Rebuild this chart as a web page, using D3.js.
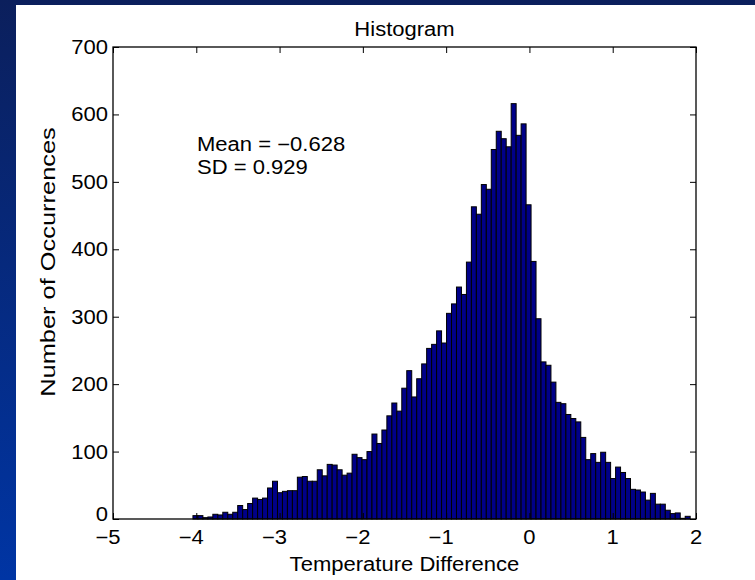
<!DOCTYPE html>
<html>
<head>
<meta charset="utf-8">
<script src="https://cdn.jsdelivr.net/npm/d3@7"></script>
<style>
  html, body { margin: 0; padding: 0; background: #0a2060; }
  svg { display: block; }
  text { font-family: 'Liberation Sans', Arial, Helvetica, sans-serif; fill: #000; }
</style>
</head>
<body>
<div id="chart"></div>
<script>
/* Histogram of temperature differences (MATLAB-style figure on a blue slide) */

// bin counts, left to right (100 bins)
var counts = [
  5, 5, 2, 3, 7, 6, 10, 7, 10, 20,
  14, 23, 31, 29, 31, 46, 56, 39, 41, 42,
  42, 62, 63, 56, 56, 73, 64, 81, 80, 73,
  65, 68, 96, 91, 88, 100, 126, 112, 132, 153,
  172, 160, 194, 220, 181, 208, 230, 253, 259, 279,
  261, 305, 319, 344, 333, 381, 463, 452, 496, 489,
  548, 575, 564, 552, 616, 569, 586, 466, 382, 297,
  233, 228, 203, 173, 171, 155, 149, 144, 121, 88,
  97, 84, 99, 84, 60, 77, 69, 60, 44, 43,
  40, 28, 38, 22, 22, 13, 8, 9, 1, 4
];
// data range covered by the bins
var binRange = [-4.04, 1.93];

var xTicks = [-5, -4, -3, -2, -1, 0, 1, 2];
var yTicks = [0, 100, 200, 300, 400, 500, 600, 700];

var titleText = 'Histogram';
var xLabelText = 'Temperature Difference';
var yLabelText = 'Number of Occurrences';
var statLines = ['Mean = \u22120.628', 'SD = 0.929'];

var W = 755, H = 580;
var plot = { left: 113, right: 696, top: 47, bottom: 519 };
var tickLen = 6;
var fontPx = 19.5;
var widen = 1.13;   // the figure text is a bit wider than plain Arial

var svg = d3.select('#chart').append('svg')
  .attr('width', W)
  .attr('height', H);

// slide background gradient
var defs = svg.append('defs');
var grad = defs.append('linearGradient')
  .attr('id', 'bg')
  .attr('x1', 0).attr('y1', 0).attr('x2', 0).attr('y2', 1);
grad.append('stop').attr('offset', '0%').attr('stop-color', '#0b1f5c');
grad.append('stop').attr('offset', '100%').attr('stop-color', '#0035a4');

svg.append('rect').attr('width', W).attr('height', H).attr('fill', 'url(#bg)');

// white figure panel
svg.append('rect')
  .attr('x', 16).attr('y', 5)
  .attr('width', W - 16).attr('height', H - 5)
  .attr('fill', '#fff');

var x = d3.scaleLinear().domain([-5, 2]).range([plot.left, plot.right]);
var y = d3.scaleLinear().domain([0, 700]).range([plot.bottom, plot.top]);

var binW = (binRange[1] - binRange[0]) / counts.length;

// bars
svg.append('g')
  .selectAll('rect')
  .data(counts)
  .enter().append('rect')
  .attr('x', function(d, i) { return x(binRange[0] + i * binW); })
  .attr('width', function(d, i) { return x(binRange[0] + (i + 1) * binW) - x(binRange[0] + i * binW); })
  .attr('y', function(d) { return y(d); })
  .attr('height', function(d) { return y(0) - y(d); })
  .attr('fill', '#000088')
  .attr('stroke', '#000')
  .attr('stroke-width', 1);

// axes: ticks point inward, box on all four sides
var fmt = d3.format('');

svg.append('g')
  .attr('transform', 'translate(0,' + plot.bottom + ')')
  .call(d3.axisTop(x).tickValues(xTicks).tickSize(tickLen).tickFormat(''))
  .call(function(g) { g.select('.domain').remove(); });

svg.append('g')
  .attr('transform', 'translate(0,' + plot.top + ')')
  .call(d3.axisBottom(x).tickValues(xTicks).tickSize(tickLen).tickFormat(''))
  .call(function(g) { g.select('.domain').remove(); });

svg.append('g')
  .attr('transform', 'translate(' + plot.left + ',0)')
  .call(d3.axisRight(y).tickValues(yTicks).tickSize(tickLen).tickFormat(''))
  .call(function(g) { g.select('.domain').remove(); });

svg.append('g')
  .attr('transform', 'translate(' + plot.right + ',0)')
  .call(d3.axisLeft(y).tickValues(yTicks).tickSize(tickLen).tickFormat(''))
  .call(function(g) { g.select('.domain').remove(); });

svg.selectAll('.tick line').attr('stroke', '#000').attr('stroke-width', 1);

svg.append('rect')
  .attr('x', plot.left).attr('y', plot.top)
  .attr('width', plot.right - plot.left)
  .attr('height', plot.bottom - plot.top)
  .attr('fill', 'none')
  .attr('stroke', '#000')
  .attr('stroke-width', 1.3);

function place(px, py) {
  return 'translate(' + px + ',' + py + ') scale(' + widen + ',1)';
}

// tick labels (negative ones sit a little left of their tick, as in the original)
svg.append('g')
  .selectAll('text')
  .data(xTicks)
  .enter().append('text')
  .attr('transform', function(d) { return place(x(d) - (d < 0 ? 5 : 0), 544); })
  .attr('text-anchor', 'middle')
  .attr('font-size', fontPx + 'px')
  .text(function(d) { return fmt(d); });

svg.append('g')
  .selectAll('text')
  .data(yTicks)
  .enter().append('text')
  .attr('transform', function(d) { return place(plot.left - 5, y(d) - (d === 0 ? 5 : 0)); })
  .attr('dy', '0.36em')
  .attr('text-anchor', 'end')
  .attr('font-size', fontPx + 'px')
  .text(function(d) { return fmt(d); });

// title and axis labels
svg.append('text')
  .attr('transform', place((plot.left + plot.right) / 2, 36))
  .attr('text-anchor', 'middle')
  .attr('font-size', fontPx + 'px')
  .text(titleText);

svg.append('text')
  .attr('transform', place((plot.left + plot.right) / 2, 571))
  .attr('text-anchor', 'middle')
  .attr('font-size', fontPx + 'px')
  .text(xLabelText);

// y label runs longer than the other text in the figure
svg.append('text')
  .attr('transform', 'translate(55,262) rotate(-90) scale(1.21,1)')
  .attr('text-anchor', 'middle')
  .attr('font-size', '21px')
  .text(yLabelText);

// statistics annotation
svg.append('g')
  .selectAll('text')
  .data(statLines)
  .enter().append('text')
  .attr('transform', function(d, i) { return place(197, 151 + i * 23); })
  .attr('font-size', fontPx + 'px')
  .text(function(d) { return d; });
</script>
</body>
</html>
